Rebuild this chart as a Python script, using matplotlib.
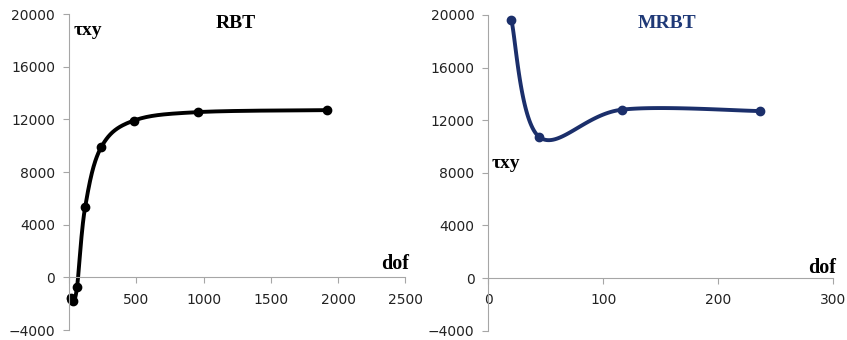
import matplotlib.pyplot as plt
import numpy as np

# RBT series
rbt_dof = [12, 30, 60, 120, 240, 480, 960, 1920]
rbt_tau = [-1550, -1800, -700, 5350, 9900, 11900, 12550, 12700]

# MRBT series
mrbt_dof = [20, 44, 116, 236]
mrbt_tau = [19650, 10750, 12800, 12700]

y_ticks = [-4000, 0, 4000, 8000, 12000, 16000, 20000]
rbt_xticks = [0, 500, 1000, 1500, 2000, 2500]
mrbt_xticks = [0, 100, 200, 300]

AXIS_GREY = "#a6a6a6"
NAVY = "#1b2f6b"
TITLE_NAVY = "#1f3977"


def smooth(ax, xs, ys, n=40):
    """Excel-like smoothed line (Catmull-Rom Bezier) built in display space."""
    fig = ax.figure
    fig.canvas.draw()
    pts = ax.transData.transform(np.column_stack([xs, ys]))
    p = np.vstack([pts[0], pts, pts[-1]])
    out = []
    t = np.linspace(0, 1, n)[:, None]
    for i in range(1, len(p) - 2):
        p0, p1, p2, p3 = p[i - 1], p[i], p[i + 1], p[i + 2]
        b1 = p1 + (p2 - p0) / 6
        b2 = p2 - (p3 - p1) / 6
        seg = ((1 - t) ** 3) * p1 + 3 * ((1 - t) ** 2) * t * b1 \
            + 3 * (1 - t) * t ** 2 * b2 + t ** 3 * p2
        out.append(seg)
    curve = np.vstack(out)
    data = ax.transData.inverted().transform(curve)
    return data[:, 0], data[:, 1]


def style_axes(ax, xticks):
    for side in ("top", "right"):
        ax.spines[side].set_visible(False)
    ax.spines["left"].set_color(AXIS_GREY)
    ax.spines["bottom"].set_color(AXIS_GREY)
    ax.spines["bottom"].set_position(("data", 0))
    ax.set_ylim(-4000, 20000)
    ax.set_xlim(xticks[0], xticks[-1])
    ax.set_yticks(y_ticks)
    ax.set_xticks(xticks)
    ax.tick_params(axis="both", colors=AXIS_GREY, labelcolor="#222222",
                   labelsize=10, length=4, direction="out")
    ax.tick_params(axis="x", pad=7)
    ax.tick_params(axis="y", pad=6)
    ax.patch.set_visible(False)


fig = plt.figure(figsize=(8.47, 3.4), dpi=100)
ax1 = fig.add_axes([0.0815, 0.0294, 0.397, 0.9294])
ax2 = fig.add_axes([0.5765, 0.0274, 0.4073, 0.9285])

style_axes(ax1, rbt_xticks)
style_axes(ax2, mrbt_xticks)

sx, sy = smooth(ax1, rbt_dof, rbt_tau)
ax1.plot(sx, sy, color="black", lw=2.8, solid_capstyle="round", clip_on=False)
ax1.plot(rbt_dof, rbt_tau, "o", color="black", ms=6, clip_on=False)

sx, sy = smooth(ax2, mrbt_dof, mrbt_tau)
ax2.plot(sx, sy, color=NAVY, lw=2.8, solid_capstyle="round", clip_on=False)
ax2.plot(mrbt_dof, mrbt_tau, "o", color=NAVY, ms=6, clip_on=False)

serif = "Liberation Serif"
ax1.text(0.4966, 0.9715, "RBT", transform=ax1.transAxes, ha="center", va="center",
         fontsize=14, fontweight="bold", family=serif)
ax1.text(0.0565, 0.949, "τxy", transform=ax1.transAxes, ha="center", va="center",
         fontsize=14, fontweight="bold", family=serif)
ax1.text(0.969, 0.209, "dof", transform=ax1.transAxes, ha="center", va="center",
         fontsize=14.5, fontweight="bold", family=serif)

ax2.text(0.519, 0.9715, "MRBT", transform=ax2.transAxes, ha="center", va="center",
         fontsize=14, fontweight="bold", family=serif, color=TITLE_NAVY)
ax2.text(0.051, 0.528, "τxy", transform=ax2.transAxes, ha="center", va="center",
         fontsize=14, fontweight="bold", family=serif)
ax2.text(0.969, 0.1986, "dof", transform=ax2.transAxes, ha="center", va="center",
         fontsize=14.5, fontweight="bold", family=serif)

fig.savefig("out.png", dpi=100)
plt.close(fig)
